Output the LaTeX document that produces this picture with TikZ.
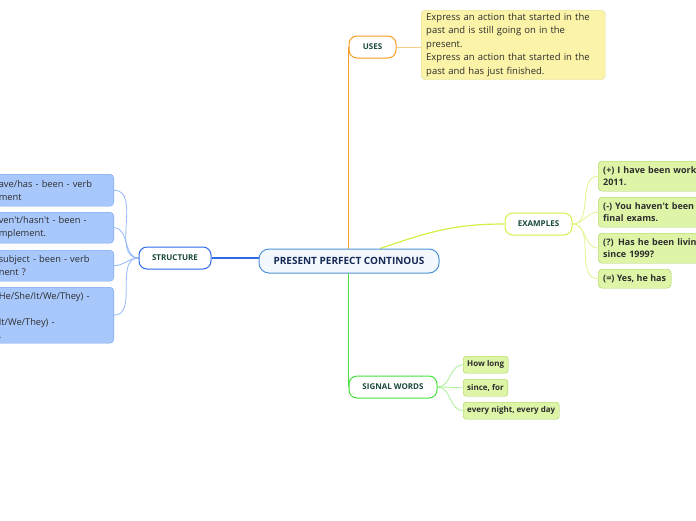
\documentclass[tikz,border=0pt]{standalone}
\usepackage{fontspec}
\setmainfont{Open Sans}
\usepackage{tikz}
\usetikzlibrary{positioning,backgrounds}
\definecolor{mainBlue}{RGB}{78,146,214}
\definecolor{mainFill}{RGB}{242,248,253}
\definecolor{titleNavy}{RGB}{22,40,85}
\definecolor{labelTeal}{RGB}{25,72,62}
\definecolor{leafText}{RGB}{45,45,45}
\definecolor{usesOrange}{RGB}{247,158,32}
\definecolor{usesFill}{RGB}{251,243,168}
\definecolor{usesLine}{RGB}{250,204,140}
\definecolor{structBlue}{RGB}{45,105,235}
\definecolor{structFill}{RGB}{168,200,252}
\definecolor{structDraw}{RGB}{112,160,242}
\definecolor{structLine}{RGB}{150,185,250}
\definecolor{exLime}{RGB}{212,240,70}
\definecolor{exLine}{RGB}{225,245,140}
\definecolor{exFill}{RGB}{222,245,168}
\definecolor{exDraw}{RGB}{165,210,90}
\definecolor{sigGreen}{RGB}{70,225,60}
\definecolor{sigLine}{RGB}{170,240,150}

\begin{document}
\begin{tikzpicture}[x=1pt, y=-1pt,
central/.style={draw=mainBlue, fill=mainFill, line width=1pt, rounded corners=10pt, minimum width=180pt, minimum height=24pt, inner sep=0pt, font=\fontsize{10}{12}\selectfont\bfseries, text=titleNavy},
branch/.style={fill=white, line width=1pt, rounded corners=8pt, minimum height=22pt, inner sep=0pt, font=\fontsize{8}{9}\selectfont\bfseries, text=labelTeal},
usesbox/.style={draw=usesFill!90!black, fill=usesFill, rounded corners=4pt, anchor=north west, text width=174pt, align=left, inner xsep=5pt, inner ysep=3pt, font=\fontsize{9.5}{13.5}\selectfont, text=leafText},
sleaf/.style={draw=structDraw, fill=structFill, rounded corners=4pt, anchor=north east, text width=111pt, align=left, inner xsep=4pt, inner ysep=1pt, font=\fontsize{9.3}{13}\selectfont, text=leafText},
eleaf/.style={draw=exDraw, fill=exFill, rounded corners=4pt, anchor=north west, align=left, inner xsep=5pt, inner ysep=1pt, font=\fontsize{9}{12.5}\selectfont\bfseries, text=leafText},
ewide/.style={eleaf, text width=120pt, minimum height=30pt},
wleaf/.style={draw=exDraw, fill=exFill, rounded corners=3pt, anchor=north west, inner xsep=4pt, inner ysep=0pt, minimum height=17pt, font=\fontsize{8}{9}\selectfont\bfseries, text=leafText},
link/.style={line width=1.2pt},
fan/.style={line width=0.8pt}
]
\useasboundingbox (0,0) rectangle (696,520);
\clip (0,0) rectangle (696,520);

% centre and branches
\node[central] (ppc) at (349,261) {PRESENT PERFECT CONTINOUS};
\node[branch, draw=usesOrange, minimum width=47pt] (uses) at (372.5,47) {USES};
\node[branch, draw=structBlue, minimum width=72pt] (struct) at (175,258) {STRUCTURE};
\node[branch, draw=exLime, minimum width=67pt] (examples) at (538.5,224) {EXAMPLES};
\node[branch, draw=sigGreen, minimum width=88pt] (signal) at (393,387) {SIGNAL WORDS};

% uses
\node[usesbox] (usetext) at (421,10) {Express an action that started in the\\past and is still going on in the\\present.\\Express an action that started in the\\past and has just finished.};

% structure
\node[sleaf, minimum height=32pt] (s1) at (114,174) {ave/has - been - verb\\ment};
\node[sleaf, minimum height=31pt] (s2) at (114,212) {ven\textquotesingle t/hasn\textquotesingle t - been -\\mplement.};
\node[sleaf, minimum height=31pt] (s3) at (114,250) {subject - been - verb\\nent ?};
\node[sleaf, minimum height=56pt] (s4) at (114,287) {He/She/It/We/They) -\\ \mbox{}\\ It/We/They) -\\ .};

% examples
\node[ewide] (e1) at (598,161) {(+) I have been worki\\2011.};
\node[ewide] (e2) at (598,197) {(-) You haven\textquotesingle t been\\final exams.};
\node[ewide] (e3) at (598,233) {(?) Has he been living\\since 1999?};
\node[eleaf, minimum height=19pt] (e4) at (598,269) {(=) Yes, he has};

% signal words
\node[wleaf] (w1) at (463,356) {How long};
\node[wleaf] (w2) at (463,379) {since, for};
\node[wleaf] (w3) at (463,402) {every night, every day};

\begin{scope}[on background layer]
\fill[white] (0,0) rectangle (696,520);
\draw[link, usesOrange] (uses.west) -- (uses.west |- ppc.center);
\draw[link, sigGreen] (signal.west) -- (signal.west |- ppc.center);
\draw[link, structBlue] (struct.east) -- (ppc.west |- struct.east);
\draw[link, exLime] ([xshift=31pt]ppc.north) .. controls +(50,-17) and +(-50,0) .. (examples.west);
\draw[fan, usesLine] (uses.east) -- (usetext.west |- uses.east);
\foreach \n in {s1,s2,s3,s4}
  \draw[fan, structLine] (struct.west) to[out=180, in=0] (\n.east);
\foreach \n in {e1,e2,e3,e4}
  \draw[fan, exLine] (examples.east) to[out=0, in=180] (\n.west);
\foreach \n in {w1,w2,w3}
  \draw[fan, sigLine] (signal.east) to[out=0, in=180] (\n.west);
\end{scope}
\end{tikzpicture}
\end{document}
